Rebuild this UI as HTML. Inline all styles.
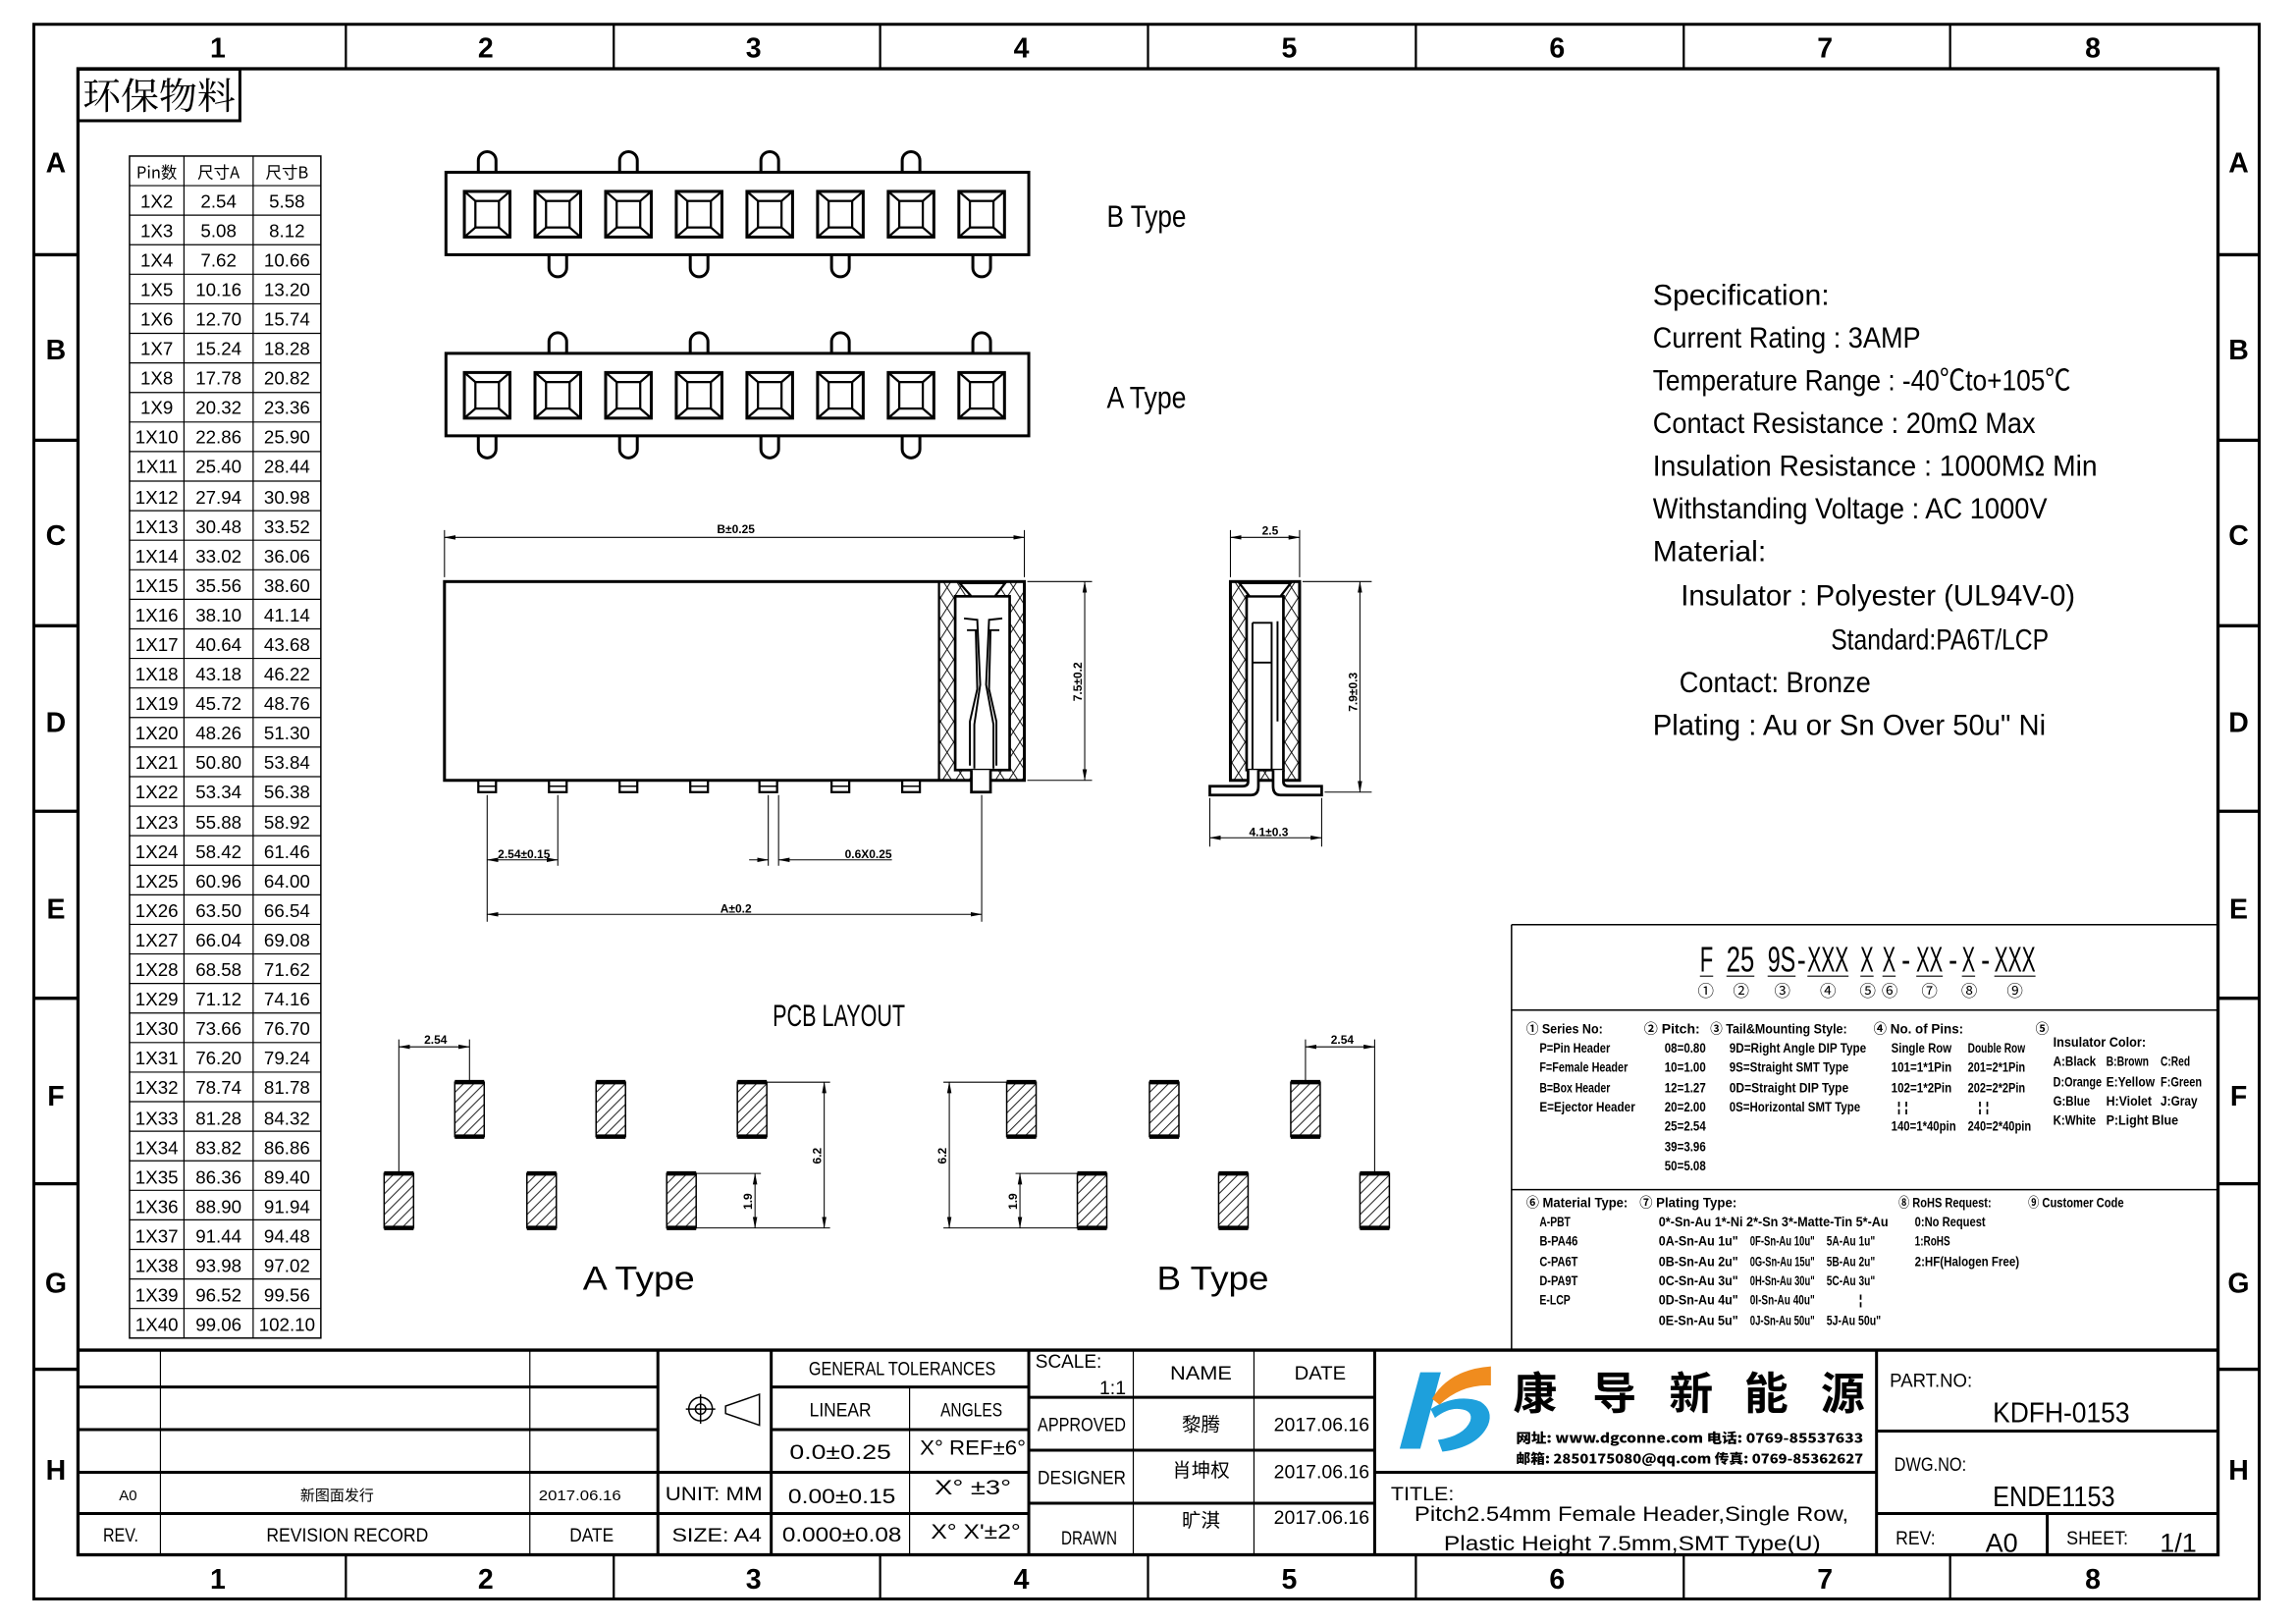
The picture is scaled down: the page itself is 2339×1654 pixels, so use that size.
<!DOCTYPE html>
<html><head><meta charset="utf-8"><style>
html,body{margin:0;padding:0;background:#fff;}
svg{display:block;}
text{font-family:"Liberation Sans Narrow","Liberation Sans","Noto Sans CJK SC",sans-serif;fill:#000;}
.cj{font-family:"Noto Sans CJK SC","WenQuanYi Zen Hei",sans-serif;}
.lb{font-size:19px;font-weight:bold;text-anchor:middle;}
.tb{font-size:13px;text-anchor:middle;}
.sp{font-size:20px;}
.s{font-size:9px;font-weight:bold;}
.d{font-size:8px;font-weight:bold;text-anchor:middle;}
</style></head><body>
<svg width="2339" height="1654" viewBox="0 0 1560 1103" preserveAspectRatio="none" xmlns="http://www.w3.org/2000/svg">
<defs>
<pattern id="hx" width="9" height="14" patternUnits="userSpaceOnUse"><path d="M0,0L9,14M9,0L0,14" stroke="#000" stroke-width="0.6"/></pattern>
<pattern id="hd" width="7" height="7" patternUnits="userSpaceOnUse"><path d="M0,7L7,0M-1,1L1,-1M6,8L8,6" stroke="#000" stroke-width="0.6"/></pattern>
<marker id="ar" markerWidth="8" markerHeight="6" refX="7.5" refY="3" orient="auto-start-reverse" markerUnits="userSpaceOnUse"><path d="M0,1.5L8,3L0,4.5Z" fill="#000"/></marker>
<g id="pin"><rect x="-15.5" y="-15.5" width="31" height="31" fill="none" stroke="#000" stroke-width="2"/><rect x="-8" y="-9" width="16" height="18" fill="none" stroke="#000" stroke-width="1.5"/><path d="M-15.5,-15.5L-8,-9M15.5,-15.5L8,-9M-15.5,15.5L-8,9M15.5,15.5L8,9" stroke="#000" stroke-width="1.5"/></g>
<g id="pad"><rect x="0" y="0" width="20" height="37" fill="url(#hd)" stroke="#000" stroke-width="1"/><path d="M0,0H20M0,37H20" stroke="#000" stroke-width="3"/></g>
</defs>
<rect width="1560" height="1103" fill="#fff"/>
<!-- frames -->
<rect x="23" y="16.5" width="1512" height="1069.5" fill="none" stroke="#000" stroke-width="2"/>
<rect x="53" y="46.7" width="1454" height="1009.3" fill="none" stroke="#000" stroke-width="2.2"/>
<path d="M235,16.5V46.7M417,16.5V46.7M598,16.5V46.7M780,16.5V46.7M962,16.5V46.7M1144,16.5V46.7M1325,16.5V46.7M235,1056V1086M417,1056V1086M598,1056V1086M780,1056V1086M962,1056V1086M1144,1056V1086M1325,1056V1086" stroke="#000" stroke-width="1.5"/>
<path d="M23,173H53M23,299H53M23,425H53M23,551H53M23,678H53M23,804H53M23,930H53M1507,173H1535M1507,299H1535M1507,425H1535M1507,551H1535M1507,678H1535M1507,804H1535M1507,930H1535" stroke="#000" stroke-width="2.2"/>
<g class="lb">
<text x="148" y="39">1</text><text x="330" y="39">2</text><text x="512" y="39">3</text><text x="694" y="39">4</text><text x="876" y="39">5</text><text x="1058" y="39">6</text><text x="1240" y="39">7</text><text x="1422" y="39">8</text>
<text x="148" y="1079">1</text><text x="330" y="1079">2</text><text x="512" y="1079">3</text><text x="694" y="1079">4</text><text x="876" y="1079">5</text><text x="1058" y="1079">6</text><text x="1240" y="1079">7</text><text x="1422" y="1079">8</text>
<text x="38" y="117">A</text><text x="38" y="244">B</text><text x="38" y="370">C</text><text x="38" y="497">D</text><text x="38" y="624">E</text><text x="38" y="751">F</text><text x="38" y="878">G</text><text x="38" y="1005">H</text>
<text x="1521" y="117">A</text><text x="1521" y="244">B</text><text x="1521" y="370">C</text><text x="1521" y="497">D</text><text x="1521" y="624">E</text><text x="1521" y="751">F</text><text x="1521" y="878">G</text><text x="1521" y="1005">H</text>
</g>
<!-- 环保物料 -->
<rect x="53" y="47" width="110" height="35" fill="none" stroke="#000" stroke-width="2"/>
<text x="56" y="74" style="font-family:'Noto Serif CJK SC',serif;font-size:25px" textLength="104" lengthAdjust="spacingAndGlyphs">环保物料</text>
<!-- table -->
<rect x="88" y="106" width="130" height="802.8" fill="none" stroke="#000" stroke-width="1"/>
<path d="M125,106V908.8M172,106V908.8" stroke="#000" stroke-width="0.8"/>
<path d="M88,126.07H218M88,146.14H218M88,166.21H218M88,186.28H218M88,206.35H218M88,226.42H218M88,246.49H218M88,266.56H218M88,286.63H218M88,306.7H218M88,326.77H218M88,346.84H218M88,366.91H218M88,386.98H218M88,407.05H218M88,427.12H218M88,447.19H218M88,467.26H218M88,487.33H218M88,507.4H218M88,527.47H218M88,547.54H218M88,567.61H218M88,587.68H218M88,607.75H218M88,627.82H218M88,647.89H218M88,667.96H218M88,688.03H218M88,708.1H218M88,728.17H218M88,748.24H218M88,768.31H218M88,788.38H218M88,808.45H218M88,828.52H218M88,848.59H218M88,868.66H218M88,888.73H218" stroke="#000" stroke-width="0.8"/>
<g style="font-size:12.5px;text-anchor:middle">
<text x="106.5" y="121" class="cj" style="font-size:11px">Pin数</text><text x="148.5" y="121" class="cj" style="font-size:11px">尺寸A</text><text x="195" y="121" class="cj" style="font-size:11px">尺寸B</text>
<text x="106.5" y="141">1X2</text><text x="148.5" y="141">2.54</text><text x="195" y="141">5.58</text>
<text x="106.5" y="161">1X3</text><text x="148.5" y="161">5.08</text><text x="195" y="161">8.12</text>
<text x="106.5" y="181">1X4</text><text x="148.5" y="181">7.62</text><text x="195" y="181">10.66</text>
<text x="106.5" y="201">1X5</text><text x="148.5" y="201">10.16</text><text x="195" y="201">13.20</text>
<text x="106.5" y="221">1X6</text><text x="148.5" y="221">12.70</text><text x="195" y="221">15.74</text>
<text x="106.5" y="241">1X7</text><text x="148.5" y="241">15.24</text><text x="195" y="241">18.28</text>
<text x="106.5" y="261">1X8</text><text x="148.5" y="261">17.78</text><text x="195" y="261">20.82</text>
<text x="106.5" y="281">1X9</text><text x="148.5" y="281">20.32</text><text x="195" y="281">23.36</text>
<text x="106.5" y="301">1X10</text><text x="148.5" y="301">22.86</text><text x="195" y="301">25.90</text>
<text x="106.5" y="321">1X11</text><text x="148.5" y="321">25.40</text><text x="195" y="321">28.44</text>
<text x="106.5" y="342">1X12</text><text x="148.5" y="342">27.94</text><text x="195" y="342">30.98</text>
<text x="106.5" y="362">1X13</text><text x="148.5" y="362">30.48</text><text x="195" y="362">33.52</text>
<text x="106.5" y="382">1X14</text><text x="148.5" y="382">33.02</text><text x="195" y="382">36.06</text>
<text x="106.5" y="402">1X15</text><text x="148.5" y="402">35.56</text><text x="195" y="402">38.60</text>
<text x="106.5" y="422">1X16</text><text x="148.5" y="422">38.10</text><text x="195" y="422">41.14</text>
<text x="106.5" y="442">1X17</text><text x="148.5" y="442">40.64</text><text x="195" y="442">43.68</text>
<text x="106.5" y="462">1X18</text><text x="148.5" y="462">43.18</text><text x="195" y="462">46.22</text>
<text x="106.5" y="482">1X19</text><text x="148.5" y="482">45.72</text><text x="195" y="482">48.76</text>
<text x="106.5" y="502">1X20</text><text x="148.5" y="502">48.26</text><text x="195" y="502">51.30</text>
<text x="106.5" y="522">1X21</text><text x="148.5" y="522">50.80</text><text x="195" y="522">53.84</text>
<text x="106.5" y="542">1X22</text><text x="148.5" y="542">53.34</text><text x="195" y="542">56.38</text>
<text x="106.5" y="563">1X23</text><text x="148.5" y="563">55.88</text><text x="195" y="563">58.92</text>
<text x="106.5" y="583">1X24</text><text x="148.5" y="583">58.42</text><text x="195" y="583">61.46</text>
<text x="106.5" y="603">1X25</text><text x="148.5" y="603">60.96</text><text x="195" y="603">64.00</text>
<text x="106.5" y="623">1X26</text><text x="148.5" y="623">63.50</text><text x="195" y="623">66.54</text>
<text x="106.5" y="643">1X27</text><text x="148.5" y="643">66.04</text><text x="195" y="643">69.08</text>
<text x="106.5" y="663">1X28</text><text x="148.5" y="663">68.58</text><text x="195" y="663">71.62</text>
<text x="106.5" y="683">1X29</text><text x="148.5" y="683">71.12</text><text x="195" y="683">74.16</text>
<text x="106.5" y="703">1X30</text><text x="148.5" y="703">73.66</text><text x="195" y="703">76.70</text>
<text x="106.5" y="723">1X31</text><text x="148.5" y="723">76.20</text><text x="195" y="723">79.24</text>
<text x="106.5" y="743">1X32</text><text x="148.5" y="743">78.74</text><text x="195" y="743">81.78</text>
<text x="106.5" y="764">1X33</text><text x="148.5" y="764">81.28</text><text x="195" y="764">84.32</text>
<text x="106.5" y="784">1X34</text><text x="148.5" y="784">83.82</text><text x="195" y="784">86.86</text>
<text x="106.5" y="804">1X35</text><text x="148.5" y="804">86.36</text><text x="195" y="804">89.40</text>
<text x="106.5" y="824">1X36</text><text x="148.5" y="824">88.90</text><text x="195" y="824">91.94</text>
<text x="106.5" y="844">1X37</text><text x="148.5" y="844">91.44</text><text x="195" y="844">94.48</text>
<text x="106.5" y="864">1X38</text><text x="148.5" y="864">93.98</text><text x="195" y="864">97.02</text>
<text x="106.5" y="884">1X39</text><text x="148.5" y="884">96.52</text><text x="195" y="884">99.56</text>
<text x="106.5" y="904">1X40</text><text x="148.5" y="904">99.06</text><text x="195" y="904">102.10</text>
</g>
<!-- top views -->
<g fill="none" stroke="#000" stroke-width="2">
<rect x="303" y="117" width="396" height="56"/>
<path d="M325,117V109A6,6 0 0 1 337,109V117M421,117V109A6,6 0 0 1 433,109V117M517,117V109A6,6 0 0 1 529,109V117M613,117V109A6,6 0 0 1 625,109V117"/>
<path d="M373,173V182A6,6 0 0 0 385,182V173M469,173V182A6,6 0 0 0 481,182V173M565,173V182A6,6 0 0 0 577,182V173M661,173V182A6,6 0 0 0 673,182V173"/>
<rect x="303" y="240" width="396" height="56"/>
<path d="M373,240V232A6,6 0 0 1 385,232V240M469,240V232A6,6 0 0 1 481,232V240M565,240V232A6,6 0 0 1 577,232V240M661,240V232A6,6 0 0 1 673,232V240"/>
<path d="M325,296V305A6,6 0 0 0 337,305V296M421,296V305A6,6 0 0 0 433,305V296M517,296V305A6,6 0 0 0 529,305V296M613,296V305A6,6 0 0 0 625,305V296"/>
</g>
<use href="#pin" x="331" y="145.5"/><use href="#pin" x="379" y="145.5"/><use href="#pin" x="427" y="145.5"/><use href="#pin" x="475" y="145.5"/><use href="#pin" x="523" y="145.5"/><use href="#pin" x="571" y="145.5"/><use href="#pin" x="619" y="145.5"/><use href="#pin" x="667" y="145.5"/>
<use href="#pin" x="331" y="268.5"/><use href="#pin" x="379" y="268.5"/><use href="#pin" x="427" y="268.5"/><use href="#pin" x="475" y="268.5"/><use href="#pin" x="523" y="268.5"/><use href="#pin" x="571" y="268.5"/><use href="#pin" x="619" y="268.5"/><use href="#pin" x="667" y="268.5"/>
<text x="752" y="154" style="font-size:21px" textLength="54" lengthAdjust="spacingAndGlyphs">B Type</text>
<text x="752" y="277" style="font-size:21px" textLength="54" lengthAdjust="spacingAndGlyphs">A Type</text>
<!-- spec -->
<g class="sp">
<text x="1123" y="207" textLength="120" lengthAdjust="spacingAndGlyphs">Specification:</text>
<text x="1123" y="236" textLength="182" lengthAdjust="spacingAndGlyphs">Current Rating : 3AMP</text>
<text x="1123" y="265" textLength="284" lengthAdjust="spacingAndGlyphs">Temperature Range : -40℃to+105℃</text>
<text x="1123" y="294" textLength="260" lengthAdjust="spacingAndGlyphs">Contact Resistance : 20mΩ Max</text>
<text x="1123" y="323" textLength="302" lengthAdjust="spacingAndGlyphs">Insulation Resistance : 1000MΩ Min</text>
<text x="1123" y="352" textLength="268" lengthAdjust="spacingAndGlyphs">Withstanding Voltage : AC 1000V</text>
<text x="1123" y="381" textLength="77" lengthAdjust="spacingAndGlyphs">Material:</text>
<text x="1142" y="411" textLength="268" lengthAdjust="spacingAndGlyphs">Insulator : Polyester (UL94V-0)</text>
<text x="1244" y="441" textLength="148" lengthAdjust="spacingAndGlyphs">Standard:PA6T/LCP</text>
<text x="1141" y="470" textLength="130" lengthAdjust="spacingAndGlyphs">Contact: Bronze</text>
<text x="1123" y="499" textLength="267" lengthAdjust="spacingAndGlyphs">Plating : Au or Sn Over 50u" Ni</text>
</g>
<!-- side view -->
<rect x="638" y="395" width="58" height="135" fill="url(#hx)"/>
<rect x="649" y="405" width="37" height="118" fill="#fff" stroke="#000" stroke-width="1.8"/>
<path d="M652,396L683,396L676,405L660,405Z" fill="#fff" stroke="#000" stroke-width="1.5"/>
<rect x="302" y="395" width="394" height="135" fill="none" stroke="#000" stroke-width="2"/>
<path d="M638,395V530" stroke="#000" stroke-width="1.5"/>
<path d="M655,420L664,421L666,465L662,492V522M681,420L672,421L670,465L675,492V522M657,428L663,428L664,468L659,490V520M679,428L673,428L672,468L677,490V520" fill="none" stroke="#000" stroke-width="1.3"/>
<path d="M660,523V538H673V523" fill="#fff" stroke="#000" stroke-width="1.8"/>
<g fill="#fff" stroke="#000" stroke-width="1.5">
<rect x="325" y="530" width="12" height="8"/><rect x="373" y="530" width="12" height="8"/><rect x="421" y="530" width="12" height="8"/><rect x="469" y="530" width="12" height="8"/><rect x="516" y="530" width="12" height="8"/><rect x="565" y="530" width="12" height="8"/><rect x="613" y="530" width="12" height="8"/>
</g>
<path d="M325,534H337M373,534H385M421,534H433M469,534H481M516,534H528M565,534H577M613,534H625" stroke="#000" stroke-width="1"/>
<g stroke="#000" stroke-width="0.7" fill="none">
<path d="M302,392V360M696,392V360"/>
<path d="M302,365H696" marker-start="url(#ar)" marker-end="url(#ar)"/>
<path d="M698,395H742M698,530H742"/>
<path d="M737,395V530" marker-start="url(#ar)" marker-end="url(#ar)"/>
<path d="M331,540V626M379,540V588M667,540V626M522,540V588M529,540V588"/>
<path d="M331,584H379" marker-start="url(#ar)" marker-end="url(#ar)"/>
<path d="M509,584H522" marker-end="url(#ar)"/>
<path d="M606,584H529" marker-end="url(#ar)"/>
<path d="M331,621H667" marker-start="url(#ar)" marker-end="url(#ar)"/>
</g>
<text x="500" y="362" class="d">B±0.25</text>
<text class="d" transform="translate(735,463) rotate(-90)">7.5±0.2</text>
<text x="356" y="583" class="d">2.54±0.15</text>
<text x="590" y="583" class="d">0.6X0.25</text>
<text x="500" y="620" class="d">A±0.2</text>
<!-- side view right -->
<rect x="836" y="395" width="47" height="135" fill="url(#hx)"/>
<rect x="847" y="405" width="25" height="118" fill="#fff" stroke="#000" stroke-width="1.8"/>
<path d="M842,396L877,396L870,405L849,405Z" fill="#fff" stroke="#000" stroke-width="1.5"/>
<rect x="836" y="395" width="47" height="135" fill="none" stroke="#000" stroke-width="2"/>
<path d="M851,423H864V523M851,423V523M851,450H864M868,422V490" fill="none" stroke="#000" stroke-width="1.3"/>
<path d="M848,523V531Q848,534 844,534H822V540H850Q855,540 855,534V523M872,523V531Q872,534 876,534H898V540H870Q865,540 865,534V523" fill="#fff" stroke="#000" stroke-width="1.8"/>
<g stroke="#000" stroke-width="0.7" fill="none">
<path d="M836,392V360M883,392V360"/>
<path d="M836,365H883" marker-start="url(#ar)" marker-end="url(#ar)"/>
<path d="M885,395H932M900,538H932"/>
<path d="M924,395V538" marker-start="url(#ar)" marker-end="url(#ar)"/>
<path d="M822,542V575M898,542V575"/>
<path d="M822,569H898" marker-start="url(#ar)" marker-end="url(#ar)"/>
</g>
<text x="863" y="363" class="d">2.5</text>
<text class="d" transform="translate(922,470) rotate(-90)">7.9±0.3</text>
<text x="862" y="568" class="d">4.1±0.3</text>
<!-- PCB -->
<text x="525" y="697" style="font-size:21px" textLength="90" lengthAdjust="spacingAndGlyphs">PCB LAYOUT</text>
<use href="#pad" x="309" y="735"/><use href="#pad" x="405" y="735"/><use href="#pad" x="501" y="735"/>
<use href="#pad" x="261" y="797"/><use href="#pad" x="358" y="797"/><use href="#pad" x="453" y="797"/>
<use href="#pad" x="684" y="735"/><use href="#pad" x="781" y="735"/><use href="#pad" x="877" y="735"/>
<use href="#pad" x="732" y="797"/><use href="#pad" x="828" y="797"/><use href="#pad" x="924" y="797"/>
<g stroke="#000" stroke-width="0.7" fill="none">
<path d="M271,797V706M319,735V706"/>
<path d="M271,711H319" marker-start="url(#ar)" marker-end="url(#ar)"/>
<path d="M521,735H564M473,834H564M473,797H517"/>
<path d="M560,735V834" marker-start="url(#ar)" marker-end="url(#ar)"/>
<path d="M513,797V834" marker-start="url(#ar)" marker-end="url(#ar)"/>
<path d="M684,735H641M732,834H641M732,797H690"/>
<path d="M645,735V834" marker-start="url(#ar)" marker-end="url(#ar)"/>
<path d="M693,797V834" marker-start="url(#ar)" marker-end="url(#ar)"/>
<path d="M887,735V706M934,797V706"/>
<path d="M887,711H934" marker-start="url(#ar)" marker-end="url(#ar)"/>
</g>
<text x="296" y="709" class="d">2.54</text>
<text x="912" y="709" class="d">2.54</text>
<text class="d" transform="translate(558,785) rotate(-90)">6.2</text>
<text class="d" transform="translate(643,785) rotate(-90)">6.2</text>
<text class="d" transform="translate(511,816) rotate(-90)">1.9</text>
<text class="d" transform="translate(691,816) rotate(-90)">1.9</text>
<text x="396" y="876" style="font-size:23px" textLength="76" lengthAdjust="spacingAndGlyphs">A Type</text>
<text x="786" y="876" style="font-size:23px" textLength="76" lengthAdjust="spacingAndGlyphs">B Type</text>
<!-- part number box -->
<path d="M1027,628H1507M1027,628V917M1027,686H1507M1027,808H1507" stroke="#000" stroke-width="1"/>
<g style="font-size:24px" >
<text x="1155" y="660" textLength="9" lengthAdjust="spacingAndGlyphs">F</text>
<text x="1173" y="660" textLength="19" lengthAdjust="spacingAndGlyphs">25</text>
<text x="1201" y="660" textLength="19" lengthAdjust="spacingAndGlyphs">9S</text>
<text x="1221" y="660" textLength="6" lengthAdjust="spacingAndGlyphs">-</text>
<text x="1228" y="660" textLength="28" lengthAdjust="spacingAndGlyphs">XXX</text>
<text x="1264" y="660" textLength="9" lengthAdjust="spacingAndGlyphs">X</text>
<text x="1279" y="660" textLength="9" lengthAdjust="spacingAndGlyphs">X</text>
<text x="1292" y="660" textLength="6" lengthAdjust="spacingAndGlyphs">-</text>
<text x="1302" y="660" textLength="18" lengthAdjust="spacingAndGlyphs">XX</text>
<text x="1324" y="660" textLength="6" lengthAdjust="spacingAndGlyphs">-</text>
<text x="1333" y="660" textLength="9" lengthAdjust="spacingAndGlyphs">X</text>
<text x="1346" y="660" textLength="6" lengthAdjust="spacingAndGlyphs">-</text>
<text x="1355" y="660" textLength="28" lengthAdjust="spacingAndGlyphs">XXX</text>
</g>
<path d="M1155,663H1164M1173,663H1192M1201,663H1220M1228,663H1256M1264,663H1273M1279,663H1288M1302,663H1320M1333,663H1342M1355,663H1383" stroke="#000" stroke-width="0.8"/>
<g style="font-size:11px;text-anchor:middle" class="cj">
<text x="1159" y="677">①</text><text x="1183" y="677">②</text><text x="1211" y="677">③</text><text x="1242" y="677">④</text><text x="1269" y="677">⑤</text><text x="1284" y="677">⑥</text><text x="1311" y="677">⑦</text><text x="1338" y="677">⑧</text><text x="1369" y="677">⑨</text>
</g>
<g class="s" lengthAdjust="spacingAndGlyphs">
<text x="1037" y="702" textLength="52" lengthAdjust="spacingAndGlyphs">① Series No:</text>
<text x="1046" y="715" textLength="48" lengthAdjust="spacingAndGlyphs">P=Pin Header</text>
<text x="1046" y="728" textLength="60" lengthAdjust="spacingAndGlyphs">F=Female Header</text>
<text x="1046" y="742" textLength="48" lengthAdjust="spacingAndGlyphs">B=Box Header</text>
<text x="1046" y="755" textLength="65" lengthAdjust="spacingAndGlyphs">E=Ejector Header</text>
<text x="1117" y="702" textLength="38" lengthAdjust="spacingAndGlyphs">② Pitch:</text>
<text x="1131" y="715" textLength="28" lengthAdjust="spacingAndGlyphs">08=0.80</text><text x="1131" y="728" textLength="28" lengthAdjust="spacingAndGlyphs">10=1.00</text><text x="1131" y="742" textLength="28" lengthAdjust="spacingAndGlyphs">12=1.27</text><text x="1131" y="755" textLength="28" lengthAdjust="spacingAndGlyphs">20=2.00</text><text x="1131" y="768" textLength="28" lengthAdjust="spacingAndGlyphs">25=2.54</text><text x="1131" y="782" textLength="28" lengthAdjust="spacingAndGlyphs">39=3.96</text><text x="1131" y="795" textLength="28" lengthAdjust="spacingAndGlyphs">50=5.08</text>
<text x="1162" y="702" textLength="93" lengthAdjust="spacingAndGlyphs">③ Tail&amp;Mounting Style:</text>
<text x="1175" y="715" textLength="93" lengthAdjust="spacingAndGlyphs">9D=Right Angle DIP Type</text>
<text x="1175" y="728" textLength="81" lengthAdjust="spacingAndGlyphs">9S=Straight SMT Type</text>
<text x="1175" y="742" textLength="81" lengthAdjust="spacingAndGlyphs">0D=Straight DIP Type</text>
<text x="1175" y="755" textLength="89" lengthAdjust="spacingAndGlyphs">0S=Horizontal SMT Type</text>
<text x="1273" y="702" textLength="61" lengthAdjust="spacingAndGlyphs">④ No. of Pins:</text>
<text x="1285" y="715" textLength="41" lengthAdjust="spacingAndGlyphs">Single Row</text><text x="1337" y="715" textLength="39" lengthAdjust="spacingAndGlyphs">Double Row</text>
<text x="1285" y="728" textLength="41" lengthAdjust="spacingAndGlyphs">101=1*1Pin</text><text x="1337" y="728" textLength="39" lengthAdjust="spacingAndGlyphs">201=2*1Pin</text>
<text x="1285" y="742" textLength="41" lengthAdjust="spacingAndGlyphs">102=1*2Pin</text><text x="1337" y="742" textLength="39" lengthAdjust="spacingAndGlyphs">202=2*2Pin</text>
<text x="1289" y="755">¦  ¦</text><text x="1344" y="755">¦  ¦</text>
<text x="1285" y="768" textLength="44" lengthAdjust="spacingAndGlyphs">140=1*40pin</text><text x="1337" y="768" textLength="43" lengthAdjust="spacingAndGlyphs">240=2*40pin</text>
<text x="1383" y="702">⑤</text>
<text x="1395" y="711" textLength="63" lengthAdjust="spacingAndGlyphs">Insulator Color:</text>
<text x="1395" y="724" textLength="29" lengthAdjust="spacingAndGlyphs">A:Black</text><text x="1431" y="724" textLength="29" lengthAdjust="spacingAndGlyphs">B:Brown</text><text x="1468" y="724" textLength="20" lengthAdjust="spacingAndGlyphs">C:Red</text>
<text x="1395" y="738" textLength="33" lengthAdjust="spacingAndGlyphs">D:Orange</text><text x="1431" y="738" textLength="33" lengthAdjust="spacingAndGlyphs">E:Yellow</text><text x="1468" y="738" textLength="28" lengthAdjust="spacingAndGlyphs">F:Green</text>
<text x="1395" y="751" textLength="25" lengthAdjust="spacingAndGlyphs">G:Blue</text><text x="1431" y="751" textLength="31" lengthAdjust="spacingAndGlyphs">H:Violet</text><text x="1468" y="751" textLength="25" lengthAdjust="spacingAndGlyphs">J:Gray</text>
<text x="1395" y="764" textLength="29" lengthAdjust="spacingAndGlyphs">K:White</text><text x="1431" y="764" textLength="49" lengthAdjust="spacingAndGlyphs">P:Light Blue</text>
<text x="1037" y="820" textLength="69" lengthAdjust="spacingAndGlyphs">⑥ Material Type:</text>
<text x="1046" y="833" textLength="21" lengthAdjust="spacingAndGlyphs">A-PBT</text><text x="1046" y="846" textLength="26" lengthAdjust="spacingAndGlyphs">B-PA46</text><text x="1046" y="860" textLength="26" lengthAdjust="spacingAndGlyphs">C-PA6T</text><text x="1046" y="873" textLength="26" lengthAdjust="spacingAndGlyphs">D-PA9T</text><text x="1046" y="886" textLength="21" lengthAdjust="spacingAndGlyphs">E-LCP</text>
<text x="1114" y="820" textLength="66" lengthAdjust="spacingAndGlyphs">⑦ Plating Type:</text>
<text x="1127" y="833" textLength="156" lengthAdjust="spacingAndGlyphs">0*-Sn-Au 1*-Ni 2*-Sn 3*-Matte-Tin 5*-Au</text>
<text x="1127" y="846" textLength="54" lengthAdjust="spacingAndGlyphs">0A-Sn-Au 1u"</text><text x="1189" y="846" textLength="44" lengthAdjust="spacingAndGlyphs">0F-Sn-Au 10u"</text><text x="1241" y="846" textLength="33" lengthAdjust="spacingAndGlyphs">5A-Au 1u"</text>
<text x="1127" y="860" textLength="54" lengthAdjust="spacingAndGlyphs">0B-Sn-Au 2u"</text><text x="1189" y="860" textLength="44" lengthAdjust="spacingAndGlyphs">0G-Sn-Au 15u"</text><text x="1241" y="860" textLength="33" lengthAdjust="spacingAndGlyphs">5B-Au 2u"</text>
<text x="1127" y="873" textLength="54" lengthAdjust="spacingAndGlyphs">0C-Sn-Au 3u"</text><text x="1189" y="873" textLength="44" lengthAdjust="spacingAndGlyphs">0H-Sn-Au 30u"</text><text x="1241" y="873" textLength="33" lengthAdjust="spacingAndGlyphs">5C-Au 3u"</text>
<text x="1127" y="886" textLength="54" lengthAdjust="spacingAndGlyphs">0D-Sn-Au 4u"</text><text x="1189" y="886" textLength="44" lengthAdjust="spacingAndGlyphs">0I-Sn-Au 40u"</text><text x="1263" y="886">¦</text>
<text x="1127" y="900" textLength="54" lengthAdjust="spacingAndGlyphs">0E-Sn-Au 5u"</text><text x="1189" y="900" textLength="44" lengthAdjust="spacingAndGlyphs">0J-Sn-Au 50u"</text><text x="1241" y="900" textLength="37" lengthAdjust="spacingAndGlyphs">5J-Au 50u"</text>
<text x="1290" y="820" textLength="63" lengthAdjust="spacingAndGlyphs">⑧ RoHS Request:</text>
<text x="1301" y="833" textLength="48" lengthAdjust="spacingAndGlyphs">0:No Request</text><text x="1301" y="846" textLength="24" lengthAdjust="spacingAndGlyphs">1:RoHS</text><text x="1301" y="860" textLength="71" lengthAdjust="spacingAndGlyphs">2:HF(Halogen Free)</text>
<text x="1378" y="820" textLength="65" lengthAdjust="spacingAndGlyphs">⑨ Customer Code</text>
</g>
<!-- title block -->
<g stroke="#000" fill="none">
<path d="M53,917H1507" stroke-width="2.2"/>
<path d="M53,942H447M53,971H447M53,1000H447M53,1028H447M447,1000H524M447,1028H524M524,942H699M524,971H699M524,1000H699M524,1028H699M699,949H934M699,985H934M699,1021H934M934,1000H1275M1275,972H1507M1275,1028H1507" stroke-width="2"/>
<path d="M109,917V1056M360,917V1056" stroke-width="0.8"/>
<path d="M447,917V1056M524,917V1056M699,917V1056M934,917V1056M1275,917V1056M1391,1028V1056" stroke-width="2"/>
<path d="M618,942V1056M770,917V1056M852,917V1056" stroke-width="0.8"/>
<circle cx="476" cy="957" r="8" stroke-width="1"/><circle cx="476" cy="957" r="3.5" stroke-width="1"/>
<path d="M466,957H486M476,947V967M493,955V960L516,968V947Z" stroke-width="1"/>
</g>
<g class="tb">
<text x="87" y="1019" style="font-size:10px">A0</text>
<text x="229" y="1019" class="cj" style="font-size:10px">新图面发行</text>
<text x="394" y="1019" style="font-size:10px" textLength="56" lengthAdjust="spacingAndGlyphs">2017.06.16</text>
<text x="82" y="1047" textLength="24" lengthAdjust="spacingAndGlyphs">REV.</text>
<text x="236" y="1047" textLength="110" lengthAdjust="spacingAndGlyphs">REVISION RECORD</text>
<text x="402" y="1047" textLength="30" lengthAdjust="spacingAndGlyphs">DATE</text>
<text x="485" y="1019" textLength="66" lengthAdjust="spacingAndGlyphs">UNIT: MM</text>
<text x="487" y="1047" textLength="61" lengthAdjust="spacingAndGlyphs">SIZE: A4</text>
<text x="613" y="934" textLength="127" lengthAdjust="spacingAndGlyphs">GENERAL TOLERANCES</text>
<text x="571" y="962" textLength="42" lengthAdjust="spacingAndGlyphs">LINEAR</text><text x="660" y="962" textLength="42" lengthAdjust="spacingAndGlyphs">ANGLES</text>
<text x="571" y="991" style="font-size:14px" textLength="69" lengthAdjust="spacingAndGlyphs">0.0±0.25</text><text x="661" y="988" style="font-size:14px" textLength="72" lengthAdjust="spacingAndGlyphs">X° REF±6°</text>
<text x="572" y="1021" style="font-size:14px" textLength="73" lengthAdjust="spacingAndGlyphs">0.00±0.15</text><text x="661" y="1015" style="font-size:14px" textLength="52" lengthAdjust="spacingAndGlyphs">X° ±3°</text>
<text x="572" y="1047" style="font-size:14px" textLength="81" lengthAdjust="spacingAndGlyphs">0.000±0.08</text><text x="663" y="1045" style="font-size:14px" textLength="61" lengthAdjust="spacingAndGlyphs">X° X'±2°</text>
<text x="726" y="929" textLength="45" lengthAdjust="spacingAndGlyphs">SCALE:</text><text x="756" y="947">1:1</text>
<text x="816" y="937" textLength="42" lengthAdjust="spacingAndGlyphs">NAME</text><text x="897" y="937" textLength="35" lengthAdjust="spacingAndGlyphs">DATE</text>
<text x="735" y="972" textLength="60" lengthAdjust="spacingAndGlyphs">APPROVED</text><text x="816" y="972" class="cj">黎腾</text><text x="898" y="972" textLength="65" lengthAdjust="spacingAndGlyphs">2017.06.16</text>
<text x="735" y="1008" textLength="60" lengthAdjust="spacingAndGlyphs">DESIGNER</text><text x="816" y="1003" class="cj">肖坤权</text><text x="898" y="1004" textLength="65" lengthAdjust="spacingAndGlyphs">2017.06.16</text>
<text x="740" y="1049" textLength="38" lengthAdjust="spacingAndGlyphs">DRAWN</text><text x="816" y="1037" class="cj">旷淇</text><text x="898" y="1035" textLength="65" lengthAdjust="spacingAndGlyphs">2017.06.16</text>
</g>
<!-- logo -->
<path d="M965,932L979,932L965,984L951,984Z" fill="#1ea0dc"/>
<path d="M972,957Q990,946 1006,952Q1015,958 1011,968Q1004,983 980,986L977,978Q995,975 999,965Q1001,958 992,957Q984,956 975,963Z" fill="#1ea0dc"/>
<path d="M973,950Q985,930 1013,928L1013,941Q993,940 978,954Z" fill="#f08c1e"/>
<g class="cj" style="font-size:30px;font-weight:bold;text-anchor:middle">
<text x="1043" y="957">康</text><text x="1097" y="957">导</text><text x="1149" y="957">新</text><text x="1200" y="957">能</text><text x="1252" y="957">源</text>
</g>
<text x="1030" y="980" class="cj" style="font-size:9px;font-weight:900" textLength="236" lengthAdjust="spacingAndGlyphs">网址: www.dgconne.com   电话: 0769-85537633</text>
<text x="1030" y="994" class="cj" style="font-size:9px;font-weight:900" textLength="236" lengthAdjust="spacingAndGlyphs">邮箱: 2850175080@qq.com 传真: 0769-85362627</text>
<text x="945" y="1019" style="font-size:13px" textLength="43" lengthAdjust="spacingAndGlyphs">TITLE:</text>
<text x="961" y="1033" style="font-size:14px" textLength="295" lengthAdjust="spacingAndGlyphs">Pitch2.54mm Female Header,Single Row,</text>
<text x="981" y="1053" style="font-size:14px" textLength="256" lengthAdjust="spacingAndGlyphs">Plastic Height 7.5mm,SMT Type(U)</text>
<text x="1284" y="942" style="font-size:13px" textLength="56" lengthAdjust="spacingAndGlyphs">PART.NO:</text>
<text x="1354" y="966" style="font-size:19px" textLength="93" lengthAdjust="spacingAndGlyphs">KDFH-0153</text>
<text x="1287" y="999" style="font-size:13px" textLength="49" lengthAdjust="spacingAndGlyphs">DWG.NO:</text>
<text x="1354" y="1023" style="font-size:19px" textLength="83" lengthAdjust="spacingAndGlyphs">ENDE1153</text>
<text x="1288" y="1049" style="font-size:13px" textLength="27" lengthAdjust="spacingAndGlyphs">REV:</text>
<text x="1360" y="1054" style="font-size:18px;text-anchor:middle">A0</text>
<text x="1404" y="1049" style="font-size:13px" textLength="42" lengthAdjust="spacingAndGlyphs">SHEET:</text>
<text x="1480" y="1054" style="font-size:18px;text-anchor:middle">1/1</text>
</svg>
</body></html>
